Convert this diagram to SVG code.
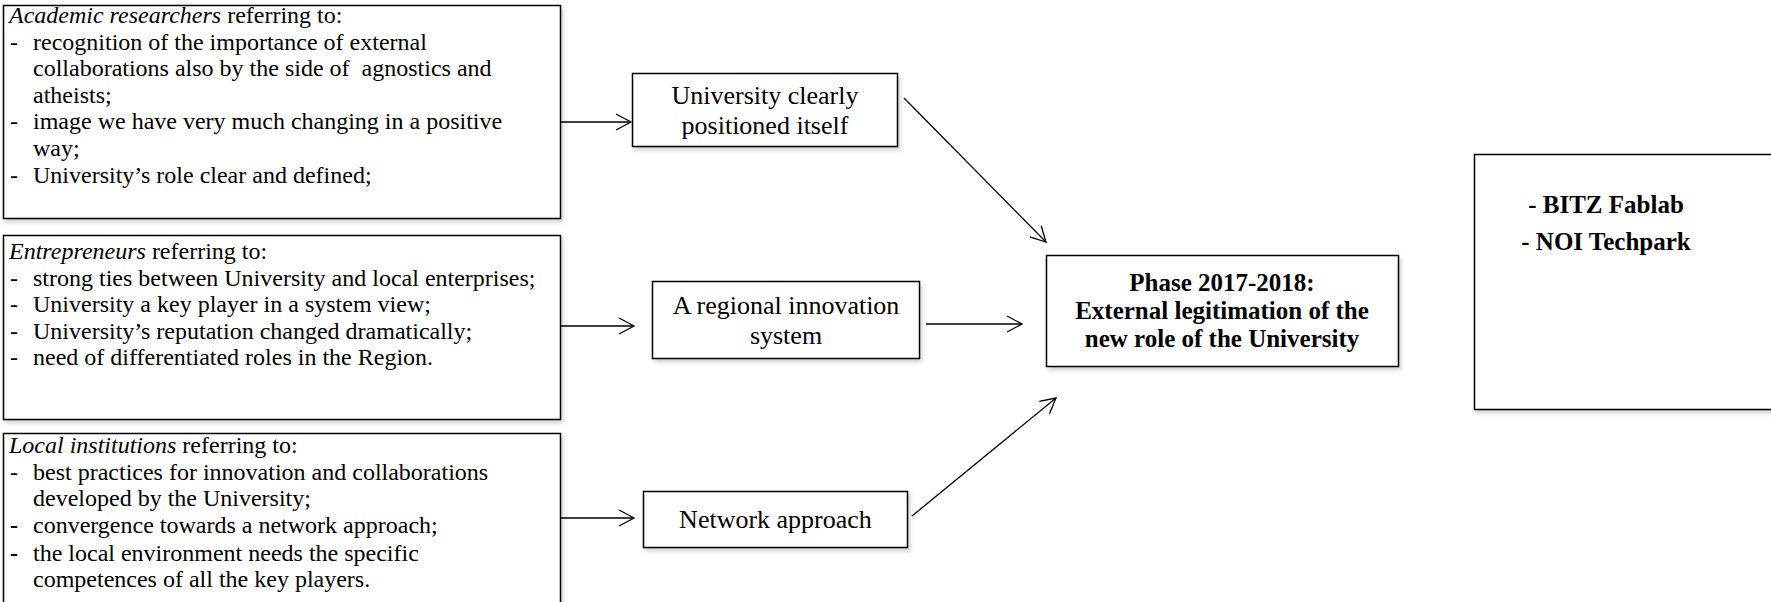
<svg xmlns="http://www.w3.org/2000/svg" width="1771" height="602" viewBox="0 0 1771 602">
<style>
.box{fill:#fff;stroke:#000;stroke-width:1.5;filter:url(#sh)}
.t{font-family:"Liberation Serif","Times New Roman",serif;font-size:24px;fill:#000}
.s{font-family:"Liberation Serif","Times New Roman",serif;font-size:26px;fill:#000;text-anchor:middle}
.b{font-family:"Liberation Serif","Times New Roman",serif;font-size:25px;font-weight:bold;fill:#000;text-anchor:middle}
.c{stroke:#000;stroke-width:1.3;fill:none;marker-end:url(#ah)}
</style>
<defs>
<filter id="sh" x="-5%" y="-5%" width="115%" height="125%">
<feDropShadow dx="2" dy="3" stdDeviation="2" flood-color="#000" flood-opacity="0.18"/>
</filter>
<marker id="ah" markerUnits="userSpaceOnUse" markerWidth="20" markerHeight="20" refX="16" refY="9" orient="auto">
<path d="M1,1 L16,9 L1,17" fill="none" stroke="#000" stroke-width="1.3"/>
</marker>
</defs>
<rect width="1771" height="602" fill="#fff"/>
<g id="academic">
<rect class="box" x="3.5" y="5.5" width="557" height="213"/>
<text class="t" x="9" y="23"><tspan font-style="italic">Academic researchers</tspan> referring to:</text>
<text class="t" x="10" y="49.6">-</text><text class="t" x="33" y="49.6">recognition of the importance of external</text>
<text class="t" x="33" y="76.2" xml:space="preserve">collaborations also by the side of  agnostics and</text>
<text class="t" x="33" y="102.8">atheists;</text>
<text class="t" x="10" y="129.4">-</text><text class="t" x="33" y="129.4">image we have very much changing in a positive</text>
<text class="t" x="33" y="156">way;</text>
<text class="t" x="10" y="182.6">-</text><text class="t" x="33" y="182.6">University’s role clear and defined;</text>
</g>
<g id="entrepreneurs">
<rect class="box" x="3.5" y="235.5" width="557" height="184"/>
<text class="t" x="9" y="259"><tspan font-style="italic">Entrepreneurs</tspan> referring to:</text>
<text class="t" x="10" y="285.6">-</text><text class="t" x="33" y="285.6">strong ties between University and local enterprises;</text>
<text class="t" x="10" y="312.2">-</text><text class="t" x="33" y="312.2">University a key player in a system view;</text>
<text class="t" x="10" y="338.8">-</text><text class="t" x="33" y="338.8">University’s reputation changed dramatically;</text>
<text class="t" x="10" y="365.4">-</text><text class="t" x="33" y="365.4">need of differentiated roles in the Region.</text>
</g>
<g id="local">
<rect class="box" x="3.5" y="433.5" width="557" height="200"/>
<text class="t" x="9" y="453"><tspan font-style="italic">Local institutions</tspan> referring to:</text>
<text class="t" x="10" y="479.6">-</text><text class="t" x="33" y="479.6">best practices for innovation and collaborations</text>
<text class="t" x="33" y="506.2">developed by the University;</text>
<text class="t" x="10" y="533" font-weight="bold">-</text><text class="t" x="33" y="533">convergence towards a network approach;</text>
<text class="t" x="10" y="560.5" font-weight="bold">-</text><text class="t" x="33" y="560.5">the local environment needs the specific</text>
<text class="t" x="33" y="587.1">competences of all the key players.</text>
</g>
<g id="positioned">
<rect class="box" x="632.5" y="73.5" width="265" height="73"/>
<text class="s" x="765" y="104">University clearly</text>
<text class="s" x="765" y="133.5">positioned itself</text>
</g>
<g id="regional">
<rect class="box" x="652.5" y="281.5" width="267" height="77"/>
<text class="s" x="786" y="314">A regional innovation</text>
<text class="s" x="786" y="343.5">system</text>
</g>
<g id="network">
<rect class="box" x="643.5" y="491.5" width="264" height="56"/>
<text class="s" x="775.5" y="528">Network approach</text>
</g>
<g id="phase">
<rect class="box" x="1046.5" y="255.5" width="352" height="111"/>
<text class="b" x="1222" y="291">Phase 2017-2018:</text>
<text class="b" x="1222" y="319">External legitimation of the</text>
<text class="b" x="1222" y="347">new role of the University</text>
</g>
<g id="places">
<rect class="box" x="1474.5" y="154.5" width="320" height="255"/>
<text class="b" x="1606" y="213" font-size="26">- BITZ Fablab</text>
<text class="b" x="1606" y="250" font-size="26">- NOI Techpark</text>
</g>
<g id="connectors">
<line class="c" x1="561" y1="122" x2="631" y2="122"/>
<line class="c" x1="561" y1="326" x2="634" y2="326"/>
<line class="c" x1="561" y1="518" x2="634" y2="518"/>
<line class="c" x1="926" y1="324" x2="1022" y2="324"/>
<line class="c" x1="904" y1="98" x2="1046" y2="242"/>
<line class="c" x1="912" y1="516" x2="1056" y2="398"/>
</g>
</svg>
